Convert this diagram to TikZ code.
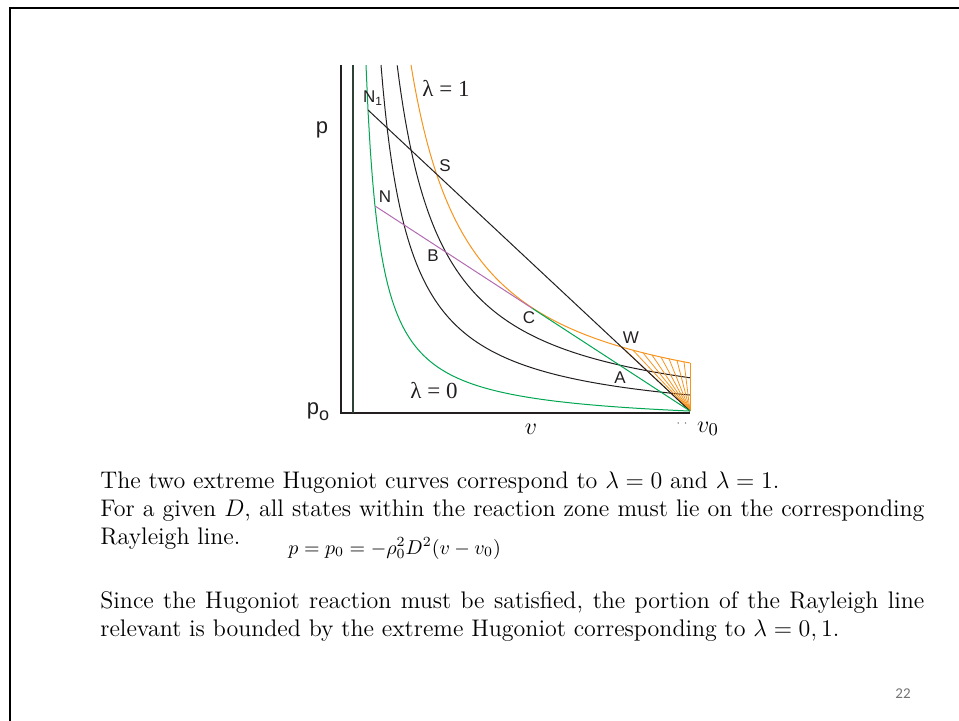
\documentclass[tikz,border=0pt]{standalone}
\usepackage{fontspec}
\newfontfamily\plotfont{Liberation Sans}
\newfontfamily\lamfont{Liberation Serif}
\newfontfamily\pagefont{Carlito}
\usetikzlibrary{positioning}
\definecolor{hgreen}{RGB}{0,166,81}
\definecolor{horange}{RGB}{247,148,29}
\definecolor{hpurple}{RGB}{178,107,178}
\definecolor{hblack}{RGB}{35,31,32}
\definecolor{asym}{RGB}{45,65,55}

\begin{document}
\begin{tikzpicture}[
  x=0.5pt, y=-0.5pt,
  hug/.style={line width=0.5pt},
  ray/.style={line width=0.5pt},
  hatch/.style={draw=horange, line width=0.4pt},
  axis/.style={draw=hblack, line width=0.65pt},
  lbl/.style={font=\plotfont\fontsize{8.5}{9}\selectfont, text=hblack, inner sep=0pt},
  lam/.style={font=\lamfont\fontsize{11.5}{12}\selectfont, text=hblack, inner sep=0pt},
  body/.style={font=\fontsize{12}{14}\selectfont, inner sep=0pt, anchor=base west},
]
\useasboundingbox (0,0) rectangle (959,721);
% ---- slide frame ----
\draw[line width=1.3pt] (10,721) -- (10,8) -- (959,8);

% ---- axes ----
\coordinate (top) at (341,65);
\coordinate (orig) at (341,413);
\coordinate (v0) at (690,411);
\draw[axis] (top) -- (orig) -- (orig -| v0);
\draw[draw=asym, line width=1pt] (353,65) -- (353,413);

% ---- Hugoniot curves, p - p_b = K/(v - v_b) ----
\foreach \K/\xs/\col in {50.53/366/hgreen, 104.68/381/hblack,
                         163.01/397.2/hblack, 213.01/411/horange}
  \draw[hug, draw=\col] plot[domain=\xs:690, samples=150]
    (\x, {426-100*(\K/(\x-352))});

% ---- hatched region lambda = 1 ----
\foreach \hx in {622,633,643,652,661,669,677,684}
  \draw[hatch] (v0) -- (\hx, {426-100*(213.01/(\hx-352))});
\draw[hatch] (v0) -- (690,363);

% ---- Rayleigh lines ----
\coordinate (N1) at (368,110);
\coordinate (N) at (375,206);
\coordinate (C) at (532.5,308.5);
\draw[ray, draw=hblack] (N1) -- (v0);
\draw[ray, draw=hpurple] (N) -- (C);
\draw[ray, draw=hgreen] (C) -- (v0);

% ---- labels ----
\node[lam] (l1) at (446,88) {λ = 1};
\node[lam] (l0) at (434,391) {λ = 0};
\node[lbl] (lN1) at (373,98) {N\textsubscript{1}};
\node[lbl] (lS) at (445,166) {S};
\node[lbl] (lN) at (385,197) {N};
\node[lbl] (lB) at (433,256) {B};
\node[lbl] (lC) at (529,318) {C};
\node[lbl] (lW) at (631,338) {W};
\node[lbl] (lA) at (620,378) {A};
\node[lbl, font=\plotfont\fontsize{11}{11}\selectfont] (lp) at (322,130) {p};
\node[lbl, font=\plotfont\fontsize{11}{11}\selectfont] (lp0) at (318,412)
  {p\raisebox{-3pt}{\fontsize{9}{9}\selectfont o}};
\node[inner sep=0pt, font=\fontsize{13}{13}\selectfont] (lv) at (531,429) {$v$};
\node[inner sep=0pt, font=\fontsize{13}{13}\selectfont] (lv0) at (708,429) {$v_0$};
\node[inner sep=0pt, text=black!60, font=\fontsize{6}{6}\selectfont] (dots) at (682,424)
  {$\cdot\,\cdot$};

% ---- text ----
\node[body] (t1) at (100,489)
  {The two extreme Hugoniot curves correspond to $\lambda=0$ and $\lambda=1$.};
\node[body] (t2) at (100,517)
  {\makebox[412pt][s]{For a given $D$, all states within the reaction zone must lie on the corresponding}};
\node[body] (t3) at (100,545) {Rayleigh line.};
\node[inner sep=0pt, anchor=base west, font=\fontsize{10}{12}\selectfont] (eq) at (288,554)
  {$p = p_0 = -\rho_0^2 D^2 (v - v_0)$};
\node[body] (t4) at (100,609)
  {\makebox[412pt][s]{Since the Hugoniot reaction must be satisfied, the portion of the Rayleigh line}};
\node[body] (t5) at (100,637)
  {relevant is bounded by the extreme Hugoniot corresponding to $\lambda=0,1$.};
\node[inner sep=0pt, text=black!55, font=\pagefont\fontsize{7.5}{8}\selectfont] (pg) at (903,694) {22};
\end{tikzpicture}
\end{document}
